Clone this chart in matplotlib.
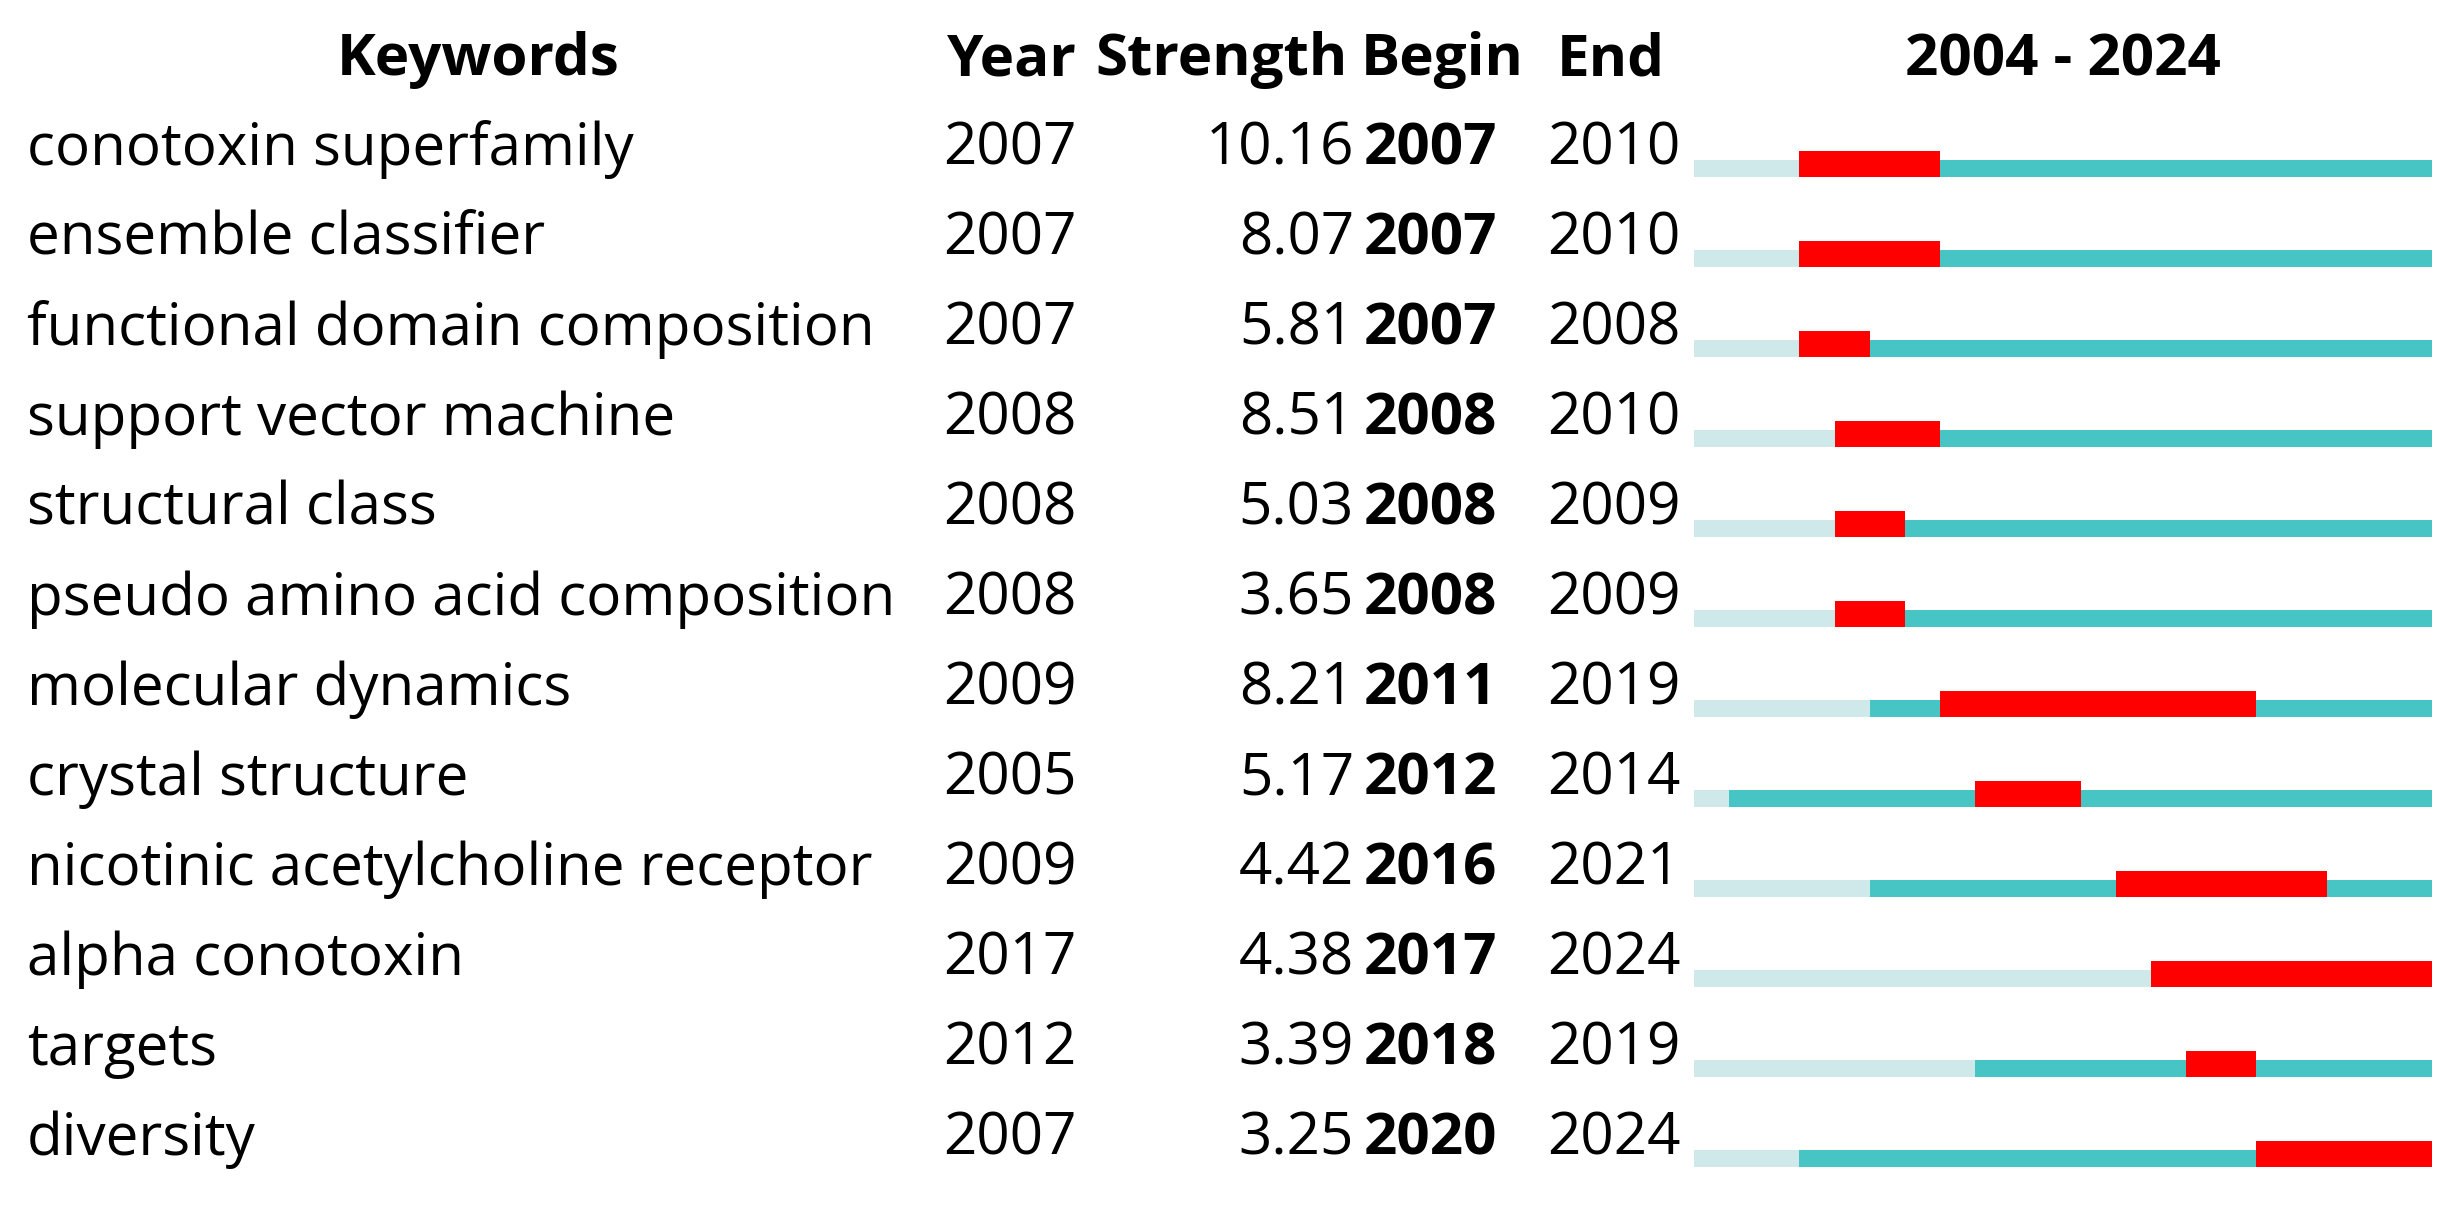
import matplotlib
matplotlib.use("Agg")
import matplotlib.pyplot as plt
import matplotlib.transforms as mtransforms

keywords = ["conotoxin superfamily", "ensemble classifier", "functional domain composition",
            "support vector machine", "structural class", "pseudo amino acid composition",
            "molecular dynamics", "crystal structure", "nicotinic acetylcholine receptor",
            "alpha conotoxin", "targets", "diversity"]
years = [2007, 2007, 2007, 2008, 2008, 2008, 2009, 2005, 2009, 2017, 2012, 2007]
strength = [10.16, 8.07, 5.81, 8.51, 5.03, 3.65, 8.21, 5.17, 4.42, 4.38, 3.39, 3.25]
begin = [2007, 2007, 2007, 2008, 2008, 2008, 2011, 2012, 2016, 2017, 2018, 2020]
end = [2010, 2010, 2008, 2010, 2009, 2009, 2019, 2014, 2021, 2024, 2019, 2024]
start_year, end_year = 2004, 2024
headers = ["Keywords", "Year", "Strength", "Begin", "End", f"{start_year} - {end_year}"]

W, H = 2463, 1211
DPI = 100
fig = plt.figure(figsize=(W / DPI, H / DPI), dpi=DPI)
plt.rcParams['font.family'] = ['Open Sans', 'DejaVu Sans']

x0, x1 = 1694, 2432
row_h = 90.0
first_center = 168.3
n = len(keywords)
ax = fig.add_axes([x0 / W, 0, (x1 - x0) / W, 1])
ax.set_xlim(start_year, end_year + 1)
ax.set_ylim((H - first_center) / row_h, (0 - first_center) / row_h)
ax.axis('off')

thin_h = 16.7 / row_h
red_h = 26.0 / row_h
light = '#cfe8ea'
teal = '#47c4c4'
red = '#ff0000'
for i in range(n):
    yb = i + thin_h / 2
    ax.barh(i, years[i] - start_year, left=start_year, height=thin_h, color=light, linewidth=0)
    ax.barh(i, end_year + 1 - years[i], left=years[i], height=thin_h, color=teal, linewidth=0)
    ax.barh(yb - red_h / 2, end[i] + 1 - begin[i], left=begin[i], height=red_h, color=red, linewidth=0)

trans = mtransforms.blended_transform_factory(fig.transFigure, ax.transData)
fs = 42
base_off = -3.5 / row_h
for i in range(n):
    y = i + base_off
    ax.text(27 / W, y, keywords[i], transform=trans, fontsize=fs, va='baseline', ha='left')
    ax.text(943 / W, y, str(years[i]), transform=trans, fontsize=fs, va='baseline', ha='left')
    ax.text(1354 / W, y, f"{strength[i]:.2f}", transform=trans, fontsize=fs, va='baseline', ha='right')
    ax.text(1364 / W, y, str(begin[i]), transform=trans, fontsize=fs, va='baseline', ha='left', fontweight='bold')
    ax.text(1547 / W, y, str(end[i]), transform=trans, fontsize=fs, va='baseline', ha='left')

hy = (75 - first_center) / row_h
hx = [478, 1012, 1221, 1442, 1611, 2063]
for h, x in zip(headers, hx):
    ax.text(x / W, hy, h, transform=trans, fontsize=fs, va='baseline', ha='center', fontweight='bold')

fig.savefig('out.png', dpi=DPI, facecolor='white')
